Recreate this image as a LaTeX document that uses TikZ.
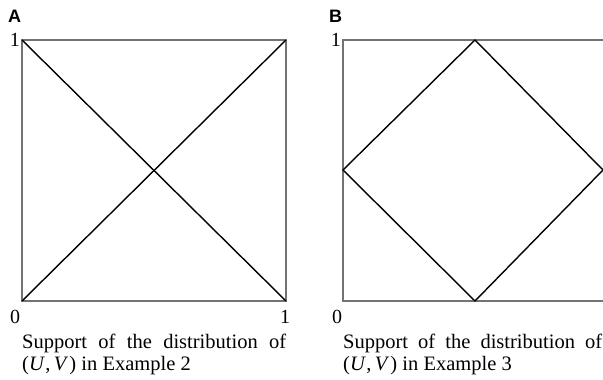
\documentclass[tikz,border=0pt]{standalone}
\usepackage{fontspec}
\setmainfont{Liberation Serif}
\setsansfont{Liberation Sans}
\begin{document}
\begin{tikzpicture}[x=1pt,y=-1pt,
  frame/.style={draw=black!55, line width=1.1pt},
  diag/.style={draw=black, line width=1.4pt},
  num/.style={font=\fontsize{20}{24}\selectfont, inner sep=0pt},
  captxt/.style={font=\fontsize{20.5}{24}\selectfont, inner sep=0pt, anchor=base west},
  panel/.style={font=\sffamily\bfseries\fontsize{18}{20}\selectfont, inner sep=0pt, anchor=base west}]
\useasboundingbox (0,0) rectangle (603,380);
% Panel A
\coordinate (a00) at (22,301);
\coordinate (a10) at (286,301);
\coordinate (a01) at (22,40);
\coordinate (a11) at (286,40);
\draw[frame] (a00) -- (a10) -- (a11) -- (a01) -- cycle;
\draw[diag] (a00) -- (a11);
\draw[diag] (a01) -- (a10);
\node[panel] (labA) at (8,22) {A};
\node[num, anchor=base east] (a1) at (20,46) {1};
\node[num, anchor=base] (a0) at (15,323) {0};
\node[num, anchor=base] (a1b) at (285,323) {1};
\node[captxt] (capA1) at (22,348) {\makebox[264pt][s]{Support of the distribution of}};
\node[captxt] (capA2) at (22,370) {(\textit{U}\kern0.5pt,\,\textit{V}\kern1pt)\ in\ Example 2};
% Panel B
\coordinate (b00) at (343,301);
\coordinate (b01) at (343,40);
\coordinate (b10) at (603,301);
\coordinate (b11) at (603,40);
\coordinate (bt) at (475,40);
\coordinate (bl) at (343,170);
\coordinate (bb) at (475,301);
\coordinate (br) at (603,170);
\draw[frame] (b11) -- (b01) -- (b00) -- (b10);
\draw[diag] (bt) -- (br) -- (bb) -- (bl) -- cycle;
\node[panel] (labB) at (329,22) {B};
\node[num, anchor=base east] (b1) at (341,46) {1};
\node[num, anchor=base] (b0) at (337,323) {0};
\node[captxt] (capB1) at (343,348) {\makebox[259pt][s]{Support of the distribution of}};
\node[captxt] (capB2) at (343,370) {(\textit{U}\kern0.5pt,\,\textit{V}\kern1pt)\ in\ Example 3};
\end{tikzpicture}
\end{document}
